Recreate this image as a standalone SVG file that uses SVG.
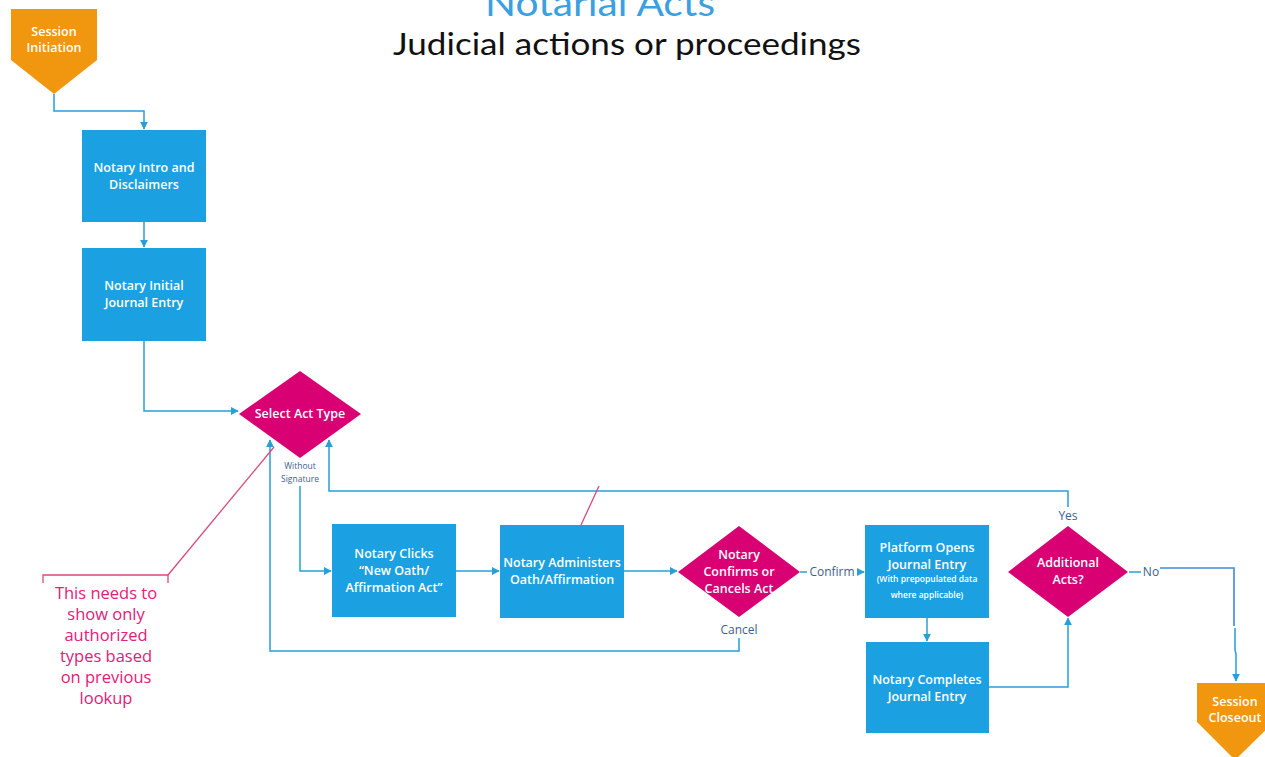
<svg xmlns="http://www.w3.org/2000/svg" width="1265" height="757" viewBox="0 0 1265 757">
  <style>
    .box { fill: #1ba1e2; }
    .dia { fill: #d80073; }
    .term { fill: #f0960f; }
    .lbl { font-family: "Open Sans", "Noto Sans", sans-serif; font-size: 12.5px; font-weight: 600; fill: #ffffff; text-anchor: middle; }
    .sm { font-family: "Open Sans", "Noto Sans", sans-serif; font-size: 8.5px; font-weight: 600; fill: #ffffff; text-anchor: middle; }
    .edge { fill: none; stroke: #2a9fd6; stroke-width: 1.5; }
    .elbl { font-family: "Open Sans", "Noto Sans", sans-serif; font-size: 12px; fill: #3b5f8c; text-anchor: middle; }
    .tiny { font-size: 8.5px; }
    .note { font-family: "Open Sans", "Noto Sans", sans-serif; font-size: 16.5px; fill: #e0207a; text-anchor: middle; }
    .noteline { fill: none; stroke: #d94a7a; stroke-width: 1.3; }
  </style>
  <defs>
    <marker id="arr" viewBox="0 0 10 10" refX="9" refY="5" markerWidth="8" markerHeight="8" markerUnits="userSpaceOnUse" orient="auto">
      <path d="M0,0 L10,5 L0,10 z" fill="#2a9fd6"/>
    </marker>
  </defs>
  <rect width="1265" height="757" fill="#ffffff"/>

  <!-- headings -->
  <text x="600" y="16" font-family="Lato, Open Sans, sans-serif" font-size="36" fill="#3aa0e0" text-anchor="middle" textLength="230" lengthAdjust="spacingAndGlyphs">Notarial Acts</text>
  <text x="627" y="55" font-family="Lato, Open Sans, sans-serif" font-size="31" fill="#111111" text-anchor="middle" textLength="468" lengthAdjust="spacingAndGlyphs">Judicial actions or proceedings</text>

  <!-- connectors -->
  <g id="connectors">
    <path class="edge" d="M54,94 V111 H144 V129" marker-end="url(#arr)"/>
    <path class="edge" d="M144,222 V247" marker-end="url(#arr)"/>
    <path class="edge" d="M144,341 V411 H238" marker-end="url(#arr)"/>
    <path class="edge" d="M300,486 V571 H331" marker-end="url(#arr)"/>
    <path class="edge" d="M456,571 H499" marker-end="url(#arr)"/>
    <path class="edge" d="M624,571 H677" marker-end="url(#arr)"/>
    <path class="edge" d="M800,572 H807"/>
    <path class="edge" d="M857,572 H864" marker-end="url(#arr)"/>
    <path class="edge" d="M739,638 V651 H270 V440" marker-end="url(#arr)"/>
    <path class="edge" d="M1068,507 V491 H329 V440" marker-end="url(#arr)"/>
    <path class="edge" d="M927,618 V641" marker-end="url(#arr)"/>
    <path class="edge" d="M989,687 H1068 V618" marker-end="url(#arr)"/>
    <path class="edge" d="M1129,572 H1141"/>
    <path fill="none" stroke="#3f8ad8" stroke-width="1.6" d="M1160,568 H1234 V626"/>
    <path class="edge" d="M1235,628 V650 L1236,654 V681" marker-end="url(#arr)"/>
    <text class="elbl tiny" x="300" y="469">Without</text>
    <text class="elbl tiny" x="300" y="482">Signature</text>
    <text class="elbl" x="832" y="576">Confirm</text>
    <text class="elbl" x="739" y="634">Cancel</text>
    <text class="elbl" x="1068" y="520">Yes</text>
    <text class="elbl" x="1151" y="576">No</text>
  </g>

  <g id="session-initiation">
    <path class="term" d="M11,9 H97 V60 L54,94 L11,60 Z"/>
    <text class="lbl" x="54" y="36" font-size="11.5">Session</text>
    <text class="lbl" x="54" y="52" font-size="11.5">Initiation</text>
  </g>

  <g id="intro">
    <rect class="box" x="82" y="130" width="124" height="92"/>
    <text class="lbl" x="144" y="172">Notary Intro and</text>
    <text class="lbl" x="144" y="189">Disclaimers</text>
  </g>

  <g id="initial-journal">
    <rect class="box" x="82" y="248" width="124" height="93"/>
    <text class="lbl" x="144" y="290">Notary Initial</text>
    <text class="lbl" x="144" y="307">Journal Entry</text>
  </g>

  <g id="select-act">
    <path class="dia" d="M300,371 L361,414 L300,458 L239,414 Z"/>
    <text class="lbl" x="300" y="418">Select Act Type</text>
  </g>

  <g id="clicks-new">
    <rect class="box" x="332" y="524" width="124" height="93"/>
    <text class="lbl" x="394" y="558">Notary Clicks</text>
    <text class="lbl" x="394" y="575">“New Oath/</text>
    <text class="lbl" x="394" y="592">Affirmation Act”</text>
  </g>

  <g id="administers">
    <rect class="box" x="500" y="525" width="124" height="93"/>
    <text class="lbl" x="562" y="567">Notary Administers</text>
    <text class="lbl" x="562" y="584">Oath/Affirmation</text>
  </g>

  <g id="confirm-cancel">
    <path class="dia" d="M739,526 L800,572 L739,617 L678,572 Z"/>
    <text class="lbl" x="739" y="559">Notary</text>
    <text class="lbl" x="739" y="576">Confirms or</text>
    <text class="lbl" x="739" y="593">Cancels Act</text>
  </g>

  <g id="platform-opens">
    <rect class="box" x="865" y="525" width="124" height="93"/>
    <text class="lbl" x="927" y="552">Platform Opens</text>
    <text class="lbl" x="927" y="569">Journal Entry</text>
    <text class="sm" x="927" y="582">(With prepopulated data</text>
    <text class="sm" x="927" y="598">where applicable)</text>
  </g>

  <g id="completes">
    <rect class="box" x="866" y="642" width="123" height="91"/>
    <text class="lbl" x="927" y="684">Notary Completes</text>
    <text class="lbl" x="927" y="701">Journal Entry</text>
  </g>

  <g id="additional">
    <path class="dia" d="M1068,526 L1128,572 L1068,617 L1008,572 Z"/>
    <text class="lbl" x="1068" y="567">Additional</text>
    <text class="lbl" x="1068" y="584">Acts?</text>
  </g>

  <g id="session-closeout">
    <path class="term" d="M1197,683 H1274 V722 L1235,760 L1197,722 Z"/>
    <text class="lbl" x="1235" y="706" font-size="11.5">Session</text>
    <text class="lbl" x="1235" y="722" font-size="11.5">Closeout</text>
  </g>

  <g id="note">
    <path class="noteline" d="M43,583 V575 H168 V583"/>
    <path class="noteline" d="M168,575 L274,447"/>
    <path class="noteline" d="M599,486 L581,525"/>
    <text class="note" x="106" y="599">This needs to</text>
    <text class="note" x="106" y="620">show only</text>
    <text class="note" x="106" y="641">authorized</text>
    <text class="note" x="106" y="662">types based</text>
    <text class="note" x="106" y="683">on previous</text>
    <text class="note" x="106" y="704">lookup</text>
  </g>
</svg>
